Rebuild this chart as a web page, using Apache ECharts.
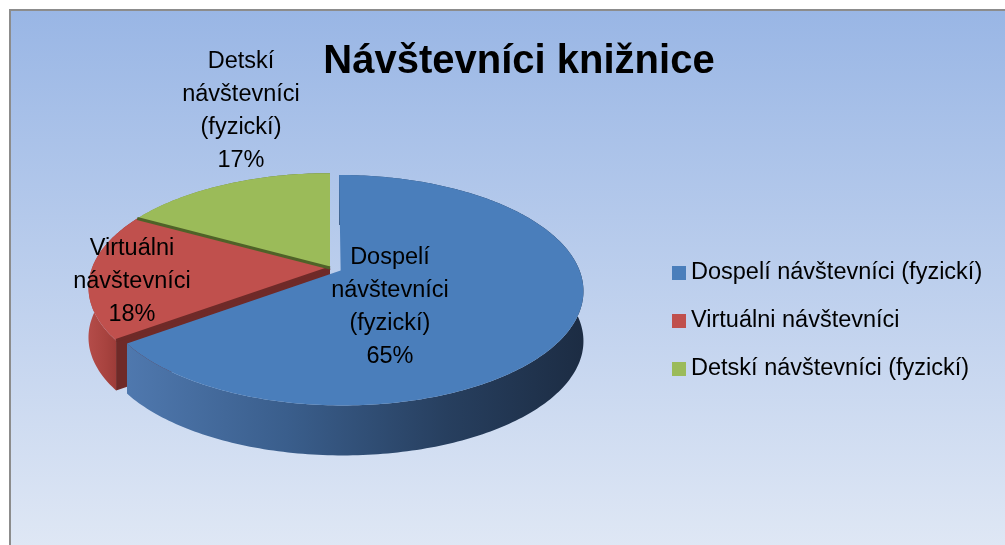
<!DOCTYPE html>
<html>
<head>
<meta charset="utf-8">
<script src="https://cdn.jsdelivr.net/npm/echarts@6/dist/echarts.min.js"></script>
<style>
  html, body { margin: 0; padding: 0; background: #fff; }
  #chart { width: 1005px; height: 545px; }
</style>
</head>
<body>
<div id="chart"></div>
<script>
// Návštevníci knižnice — 3D koláč (Excel štýl) cez custom series

const categories = ['Dospelí návštevníci (fyzickí)', 'Virtuálni návštevníci', 'Detskí návštevníci (fyzickí)'];
const values = [65, 18, 17];
const chartTitle = 'Návštevníci knižnice';

// štýl
const COLORS = ['#4a7ebb', '#c0504d', '#9bbb59'];
const DARK = ['#2c4770', '#6f2a28', '#4f6228'];
const WALL = [
  ['#4f78ae', '#3a5e8c', '#273f5f', '#1c2c43'],
  ['#b44c49', '#a8433f', '#963835', '#8a3330'],
  ['#7f9b48', '#71893f', '#5f7435', '#52652e'],
];
const FONT = '"Liberation Sans", Arial, sans-serif';

// geometria koláča
const PIE = { cx: 330, cy: 268, rx: 238, ry: 111, depth: 50, persp: 0.17 };
const EXPLODE = [0.05, 0, 0];
// kotvy popisov (v jednotkách rx / ry od stredu)
const LABEL_AT = [[0.252, 0.351], [-0.832, 0.126], [-0.374, -1.414]];

const total = values.reduce((a, b) => a + b, 0);

function project(u, v, down) {
  const s = 1 / (1 - PIE.persp * v);
  return [PIE.cx + PIE.rx * u * s, PIE.cy + PIE.ry * v * s + down];
}

function sliceGeom(k) {
  let acc = 0;
  for (let i = 0; i < k; i++) acc += values[i];
  const a0 = acc / total * 2 * Math.PI;
  const a1 = (acc + values[k]) / total * 2 * Math.PI;
  const am = (a0 + a1) / 2;
  const e = EXPLODE[k];
  return { a0, a1, ou: e * Math.sin(am), ov: -e * Math.cos(am) };
}

function rim(g, a, down) {
  return project(g.ou + Math.sin(a), g.ov - Math.cos(a), down);
}

function arc(g, from, to, down) {
  const n = Math.max(2, Math.ceil(Math.abs(to - from) / (Math.PI / 180)));
  const pts = [];
  for (let i = 0; i <= n; i++) pts.push(rim(g, from + (to - from) * i / n, down));
  return pts;
}

function renderSlice(k) {
  return function () {
    const g = sliceGeom(k);
    const D = PIE.depth;
    const apexTop = project(g.ou, g.ov, 0);
    const apexBot = project(g.ou, g.ov, D);
    const children = [];
    const prev = (k + values.length - 1) % values.length;
    const startFacing = Math.sin(g.a0) < -0.01;
    // bočná stena rezu je vidno len keď je susedný (predchádzajúci) výsek vysunutý
    const wallOpen = startFacing && (EXPLODE[prev] > 0 || EXPLODE[k] > 0);

    if (wallOpen) {
      children.push({
        type: 'polygon', z2: 1, silent: true,
        shape: { points: [apexTop, rim(g, g.a0, 0), rim(g, g.a0, D), apexBot] },
        style: { fill: DARK[k] },
      });
    }

    const wallPts = arc(g, g.a0, g.a1, 0).concat(arc(g, g.a1, g.a0, D));
    children.push({
      type: 'polygon', z2: 2, silent: true,
      shape: { points: wallPts },
      style: {
        fill: new echarts.graphic.LinearGradient(0, 0, 1, 0, [
          { offset: 0, color: WALL[k][0] },
          { offset: 0.35, color: WALL[k][1] },
          { offset: 0.7, color: WALL[k][2] },
          { offset: 1, color: WALL[k][3] },
        ]),
      },
    });

    children.push({
      type: 'polygon', z2: 3, silent: true,
      shape: { points: [apexTop].concat(arc(g, g.a0, g.a1, 0)) },
      style: { fill: COLORS[k] },
    });

    if (startFacing) {
      children.push({
        type: 'polyline', z2: 4, silent: true,
        shape: { points: [apexTop, rim(g, g.a0, 0)] },
        style: { stroke: DARK[k], lineWidth: 3, fill: null },
      });
    }

    const pct = Math.round(values[k] / total * 100) + '%';
    const lbl = categories[k].split(' ').join('\n') + '\n' + pct;
    children.push({
      type: 'text', z2: 5, silent: true,
      style: {
        text: lbl,
        x: PIE.cx + LABEL_AT[k][0] * PIE.rx,
        y: PIE.cy + LABEL_AT[k][1] * PIE.ry,
        align: 'center',
        verticalAlign: 'middle',
        fontSize: 23.5,
        fontFamily: FONT,
        lineHeight: 33,
        fill: '#000',
      },
    });

    return { type: 'group', children };
  };
}

const chart = echarts.init(document.getElementById('chart'), null, { renderer: 'canvas' });

chart.setOption({
  animation: false,
  backgroundColor: '#ffffff',
  graphic: [{
    type: 'rect', z: -10, silent: true,
    shape: { x: 10, y: 10, width: 1005, height: 545 },
    style: {
      fill: new echarts.graphic.LinearGradient(0, 0, 0, 1, [
        { offset: 0, color: '#99b6e5' },
        { offset: 1, color: '#e0e8f5' },
      ]),
      stroke: '#8c8c8c',
      lineWidth: 2,
    },
  }],
  title: {
    text: chartTitle,
    left: 514,
    textAlign: 'center',
    top: 37,
    textStyle: { fontSize: 40, fontWeight: 'bold', fontFamily: FONT, color: '#000' },
  },
  legend: {
    orient: 'vertical',
    left: 672,
    top: 260,
    padding: 0,
    icon: 'rect',
    itemWidth: 14,
    itemHeight: 14,
    itemGap: 22,
    itemStyle: { borderWidth: 0 },
    data: categories,
    textStyle: { fontSize: 23.5, lineHeight: 26, fontFamily: FONT, color: '#000' },
  },
  series: categories.map((name, k) => ({
    type: 'custom',
    name,
    coordinateSystem: 'none',
    itemStyle: { color: COLORS[k] },
    renderItem: renderSlice(k),
    data: [values[k]],
  })),
});

window.addEventListener('resize', () => chart.resize());
</script>
</body>
</html>
